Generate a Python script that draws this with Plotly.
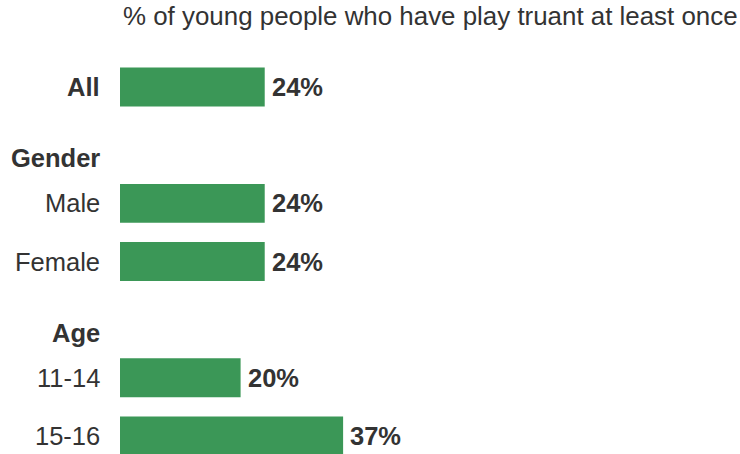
import plotly.graph_objects as go

# Rows of the chart, top to bottom; group headers carry no value
rows = ["All", "Gender", "Male", "Female", "Age", "11-14", "15-16"]
values = [24, None, 24, 24, None, 20, 37]
is_header = [False, True, False, False, True, False, False]
bold_rows = ["All", "Gender", "Age"]

title_text = "% of young people who have play truant at least once"

GREEN = "#3b9757"
TEXT = "#333333"
FONT = "Liberation Sans, Arial, sans-serif"
FS = 25.5

bar_rows = [r for r, v in zip(rows, values) if v is not None]
bar_vals = [v for v in values if v is not None]

fig = go.Figure(
    go.Bar(
        x=bar_vals,
        y=bar_rows,
        orientation="h",
        marker=dict(color=GREEN, line=dict(width=0)),
        width=0.67,
        hoverinfo="skip",
    )
)

annotations = []
# Row labels, right-aligned just left of the bars
for r, hdr in zip(rows, is_header):
    txt = f"<b>{r}</b>" if r in bold_rows else r
    annotations.append(dict(
        x=0, y=r, xref="x", yref="y", text=txt,
        xanchor="right", yanchor="middle", xshift=-18,
        yshift=-13 if hdr else 0,
        showarrow=False, font=dict(family=FONT, size=FS, color=TEXT),
    ))

# Value labels just past the end of each bar
for r, v in zip(bar_rows, bar_vals):
    annotations.append(dict(
        x=v, y=r, xref="x", yref="y", text=f"<b>{v}%</b>",
        xanchor="left", yanchor="middle", xshift=5,
        showarrow=False, font=dict(family=FONT, size=FS, color=TEXT),
    ))

# Title line above the bars
annotations.append(dict(
    x=0, y=1, xref="x", yref="paper", text=title_text,
    xanchor="left", yanchor="bottom", xshift=1, yshift=8,
    showarrow=False, font=dict(family=FONT, size=25.9, color=TEXT),
))

fig.update_layout(
    width=740, height=454,
    margin=dict(l=120, r=0, t=40, b=0),
    paper_bgcolor="white", plot_bgcolor="white",
    showlegend=False,
    annotations=annotations,
    xaxis=dict(range=[0, 620 / 6.03], visible=False, fixedrange=True),
    yaxis=dict(
        type="category", categoryorder="array", categoryarray=rows,
        range=[6.31, -0.81], visible=False, fixedrange=True,
    ),
)

fig.write_html("out.html", config={"displayModeBar": False})
